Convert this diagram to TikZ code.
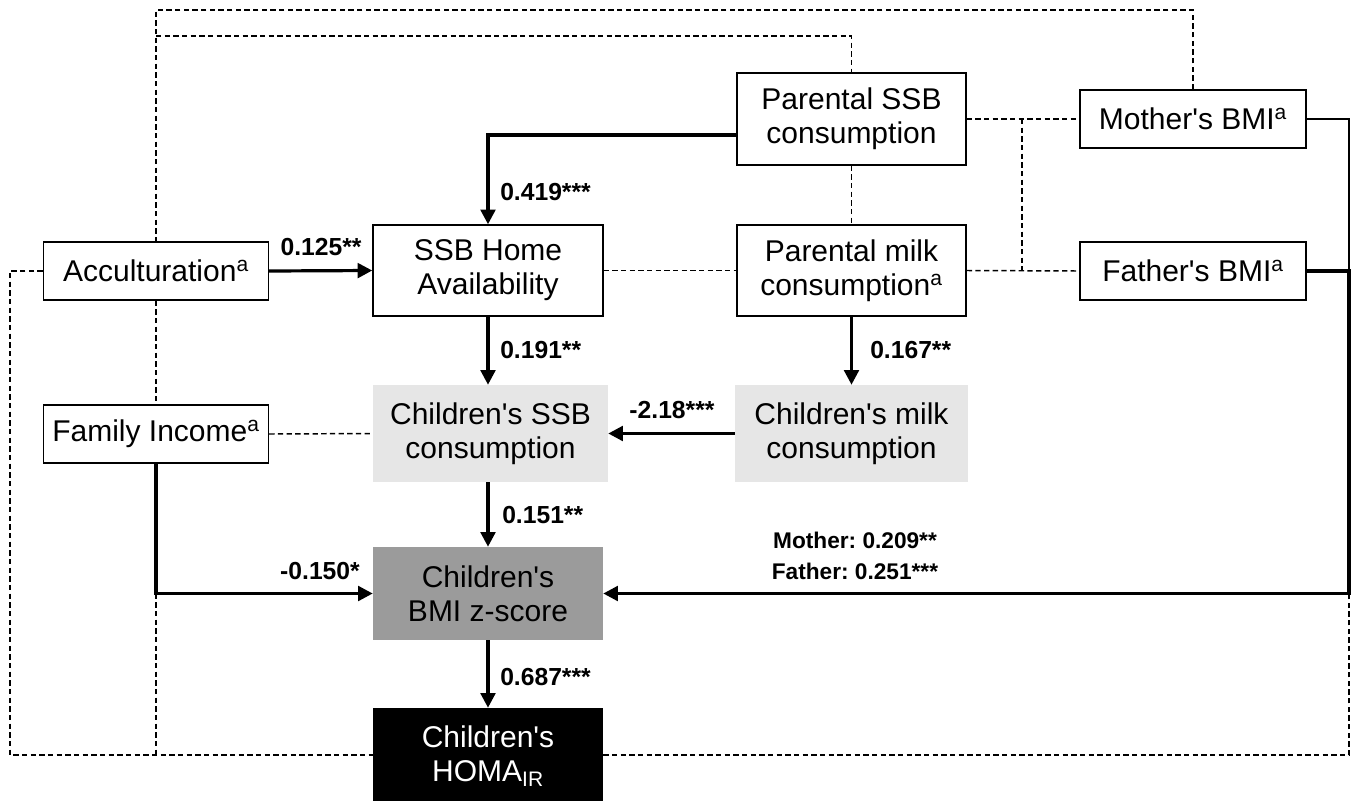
\documentclass[tikz,border=0pt]{standalone}
\usepackage{fontspec}
\setmainfont{Liberation Sans}
\usetikzlibrary{arrows.meta}
\definecolor{lightbox}{RGB}{230,230,230}
\definecolor{midbox}{RGB}{155,155,155}
\newcommand{\ap}{\textquotesingle}
\frenchspacing
\begin{document}
\begin{tikzpicture}[x=0.75pt,y=-0.75pt,
  every node/.style={font=\fontsize{22.5pt}{25.5pt}\selectfont, align=center, inner sep=0pt},
  box/.style={draw, line width=1.1pt, fill=white},
  gbox/.style={fill=lightbox},
  arr/.style={line width=2.4pt, -{Triangle[length=11pt,width=11pt]}},
  thinln/.style={line width=1.4pt},
  dsh/.style={line width=1.1pt, dash pattern=on 4pt off 2.5pt},
  lbl/.style={font=\fontsize{18.5pt}{22pt}\selectfont\bfseries}
]
\useasboundingbox (0,0) rectangle (1360,800);

% nodes
\node[box, minimum width=168.75pt, minimum height=43.5pt] (acc) at (156,271) {Acculturation\textsuperscript{a}};
\node[box, minimum width=168.75pt, minimum height=43.5pt] (fi) at (156,434) {Family Income\textsuperscript{a}};
\node[box, minimum width=172.5pt, minimum height=68.25pt] (ssbh) at (488,270.5) {SSB Home\\Availability};
\node[box, minimum width=171.75pt, minimum height=69pt] (psb) at (851.5,119) {Parental SSB\\consumption};
\node[box, minimum width=171.75pt, minimum height=68.25pt] (pmk) at (851.5,270.5) {Parental milk\\consumption\textsuperscript{a}};
\node[box, minimum width=169.5pt, minimum height=43.5pt] (mom) at (1193,119) {Mother\ap s BMI\textsuperscript{a}};
\node[box, minimum width=169.5pt, minimum height=43.5pt] (fat) at (1193,271) {Father\ap s BMI\textsuperscript{a}};
\node[gbox, minimum width=176.25pt, minimum height=72.75pt] (css) at (490.5,433.5) {Children\ap s SSB\\consumption};
\node[gbox, minimum width=174.75pt, minimum height=72.75pt] (cmk) at (851.5,433.5) {Children\ap s milk\\consumption};
\node[fill=midbox, minimum width=172.5pt, minimum height=69.75pt] (bmi) at (488,593.5) {Children\ap s\\BMI z-score};
\node[fill=black, text=white, minimum width=172.5pt, minimum height=72pt] (homa) at (488,756) {Children\ap s\\HOMA\textsubscript{IR}};

% helper coordinates
\coordinate (t1) at (156,10);
\coordinate (t2) at (156,36);
\coordinate (jt) at (1022,119);
\coordinate (jb) at (1022,271);
\coordinate (lb) at (10,755);
\coordinate (rbmi) at (1349,593.5);
\coordinate (fb) at (156,593.5);

% dashed correlations
\draw[dsh] (mom.north) |- (t1) -- (acc.north);
\draw[dsh] (t2) -| (psb.north);
\draw[dsh] (psb.south) -- (pmk.north);
\draw[dsh] (ssbh.east) -- (pmk.west);
\draw[dsh] (psb.east) -- (mom.west);
\draw[dsh] (pmk.east) -- (fat.west);
\draw[dsh] (jt) -- (jb);
\draw[dsh] (acc.west) -| (lb) -- (homa.west |- lb);
\draw[dsh] (acc.south) -- (fi.north);
\draw[dsh] (fb) -- (fb |- lb);
\draw[dsh] (fi.east) -- (css.west);
\draw[dsh] (homa.east |- lb) -| (rbmi);

% solid paths
\draw[arr] ([yshift=-12pt]psb.west) -| (ssbh.north);
\draw[arr] (acc.east) -- (ssbh.west);
\draw[arr] (ssbh.south) -- (css.north -| ssbh.south);
\draw[arr] (pmk.south) -- (cmk.north);
\draw[arr] (cmk.west) -- (css.east);
\draw[arr] (css.south -| bmi.north) -- (bmi.north);
\draw[arr] (bmi.south) -- (homa.north);
\draw[arr] (fi.south) |- (bmi.west);
\draw[thinln] (mom.east) -| (1349,271);
\draw[arr] (fat.east) -| (rbmi) -- (bmi.east);

% labels
\node[lbl, anchor=west] (l419) at (500,192) {0.419***};
\node[lbl] (l125) at (321,247) {0.125**};
\node[lbl, anchor=west] (l191) at (500,350) {0.191**};
\node[lbl, anchor=west] (l167) at (870,350) {0.167**};
\node[lbl] (l218) at (672,410) {-2.18***};
\node[lbl, anchor=west] (l151) at (502,515) {0.151**};
\node[lbl, anchor=west] (l687) at (500,677) {0.687***};
\node[lbl] (l150) at (320,571) {-0.150*};
\node[lbl, font=\fontsize{17pt}{23pt}\selectfont\bfseries] (lmf) at (855,556) {Mother: 0.209**\\Father: 0.251***};
\end{tikzpicture}
\end{document}
